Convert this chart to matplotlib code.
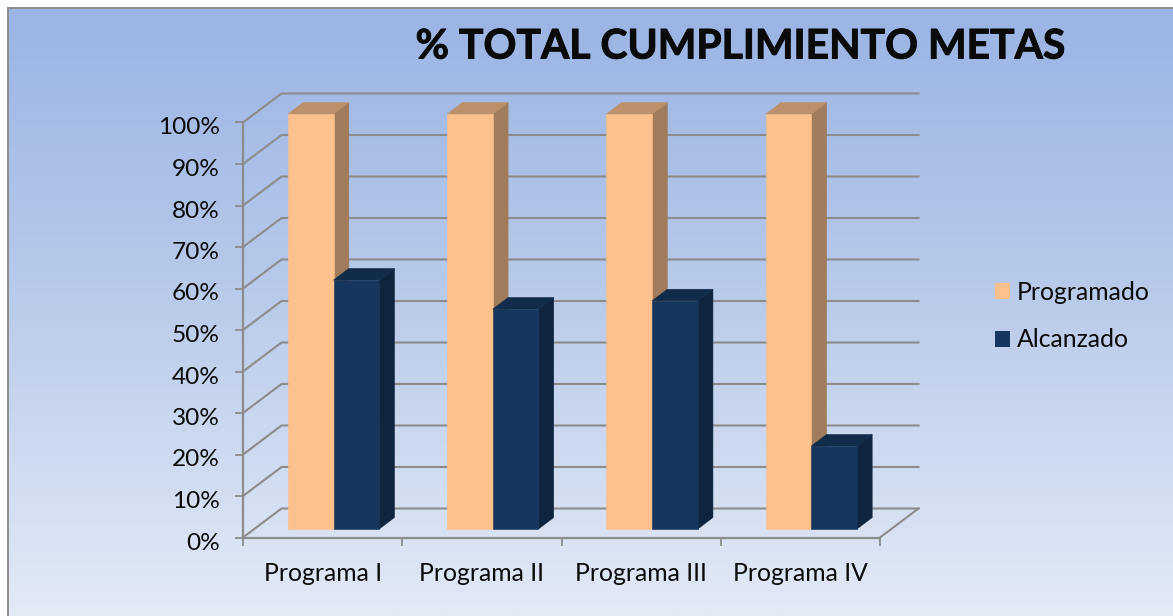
import numpy as np
import matplotlib
matplotlib.use("Agg")
import matplotlib.pyplot as plt
import matplotlib.patheffects as pe
from matplotlib.patches import Polygon, Patch
from matplotlib.colors import LinearSegmentedColormap
from matplotlib.transforms import ScaledTranslation

categories = ["Programa I", "Programa II", "Programa III", "Programa IV"]
programado = [100, 100, 100, 100]
alcanzado = [60, 53, 55, 20]
y_ticks = [0, 10, 20, 30, 40, 50, 60, 70, 80, 90, 100]
y_labels = ["0%", "10%", "20%", "30%", "40%", "50%", "60%", "70%", "80%", "90%", "100%"]
title = "% TOTAL CUMPLIMIENTO METAS"

W, H = 1173, 616
plt.rcParams["font.family"] = ["Lato", "DejaVu Sans"]
fig = plt.figure(figsize=(W / 100, H / 100), dpi=100, facecolor="white")

# gradient background with a frame on the top and left
bg = fig.add_axes([8 / W, 0, 1 - 8 / W, 1 - 8 / H], zorder=0)
cmap = LinearSegmentedColormap.from_list("bg", ["#9AB4E4", "#BBCCEB", "#E3EAF6"])
bg.imshow(np.linspace(0, 1, 256)[:, None], aspect="auto", cmap=cmap, extent=(0, 1, 0, 1), origin="upper")
bg.set_xticks([]); bg.set_yticks([])
for s in ("right", "bottom"):
    bg.spines[s].set_visible(False)
for s in ("left", "top"):
    bg.spines[s].set_color("#8C8C8C"); bg.spines[s].set_linewidth(1.4)

# main axes: front plane of the chart
L, R, T, B = 243, 880, 122.5, 537.5
ax = fig.add_axes([L / W, 1 - B / H, (R - L) / W, (B - T) / H], zorder=1)
ax.patch.set_alpha(0)
ax.set_xlim(0, len(categories))
ax.set_ylim(0, 100)
sx = (R - L) / len(categories)
sy = (B - T) / 100
GREY = "#8C8C8C"
for s in ("top", "right"):
    ax.spines[s].set_visible(False)
for s in ("left", "bottom"):
    ax.spines[s].set_color(GREY); ax.spines[s].set_linewidth(1.6)

ax.set_yticks(y_ticks, y_labels)
ax.set_xticks(range(len(categories) + 1), [""] * (len(categories) + 1))
ax.set_xticks(np.arange(len(categories)) + 0.5, categories, minor=True)
ax.tick_params(axis="y", length=5.8, width=1.3, color=GREY, labelsize=17.6, pad=11, labelcolor="#0A0A0A")
ax.tick_params(axis="x", which="major", length=5.8, width=1.3, color=GREY)
ax.tick_params(axis="x", which="minor", length=0, labelsize=17.8, pad=17.6, labelcolor="#0A0A0A")
down = ScaledTranslation(0, -3.5 / 100, fig.dpi_scale_trans)
for lab in ax.get_yticklabels():
    lab.set_transform(lab.get_transform() + down)

# wall and floor depth
DX, DY = 38.5 / sx, 29 / sy
n = len(categories)
for v in y_ticks:
    ax.plot([n + DX, DX, 0], [v + DY, v + DY, v], color=GREY, lw=1.5, clip_on=False, zorder=1, solid_joinstyle="miter")
ax.plot([n, n + DX], [0, DY], color=GREY, lw=1.5, clip_on=False, zorder=1)

# bars
BW = 45.6 / sx
SHX, SHY = 10.9 / sx, 8.4 / sy
BDX, BDY = 15.3 / sx, 11.6 / sy


def bar3d(x0, value, front, side, top):
    y0 = SHY
    y1 = value + SHY
    x1 = x0 + BW
    ax.add_patch(Polygon([(x1, y0), (x1 + BDX, y0 + BDY), (x1 + BDX, y1 + BDY), (x1, y1)],
                         fc=side, ec=side, lw=0.4, clip_on=False, zorder=3))
    ax.add_patch(Polygon([(x0, y1), (x1, y1), (x1 + BDX, y1 + BDY), (x0 + BDX, y1 + BDY)],
                         fc=top, ec=top, lw=0.4, clip_on=False, zorder=3))
    ax.add_patch(Polygon([(x0, y0), (x1, y0), (x1, y1), (x0, y1)],
                         fc=front, ec=front, lw=0.4, clip_on=False, zorder=3))


PEACH = ("#FBC08C", "#A07C5B", "#BD906C")
NAVY = ("#17365D", "#0F243E", "#112B4A")
for i in range(n):
    c = i + 0.5 + SHX
    bar3d(c - BW, programado[i], *PEACH)
    bar3d(c, alcanzado[i], *NAVY)

# title and legend
fig.text(740.5 / W, 1 - 47 / H, title, ha="center", va="center", fontsize=29.4, fontweight="bold", color="#0A0A0A",
         path_effects=[pe.withStroke(linewidth=0.7, foreground="#0A0A0A")])
handles = [Patch(fc=PEACH[0], ec="none", label="Programado"), Patch(fc=NAVY[0], ec="none", label="Alcanzado")]
fig.legend(handles=handles, loc="center left", bbox_to_anchor=(995 / W, 1 - 316 / H), frameon=False,
           fontsize=17.8, handlelength=0.61, handleheight=0.61, handletextpad=0.26, labelspacing=1.0,
           borderpad=0, borderaxespad=0, labelcolor="#0A0A0A")

fig.savefig("out.png", dpi=100)
